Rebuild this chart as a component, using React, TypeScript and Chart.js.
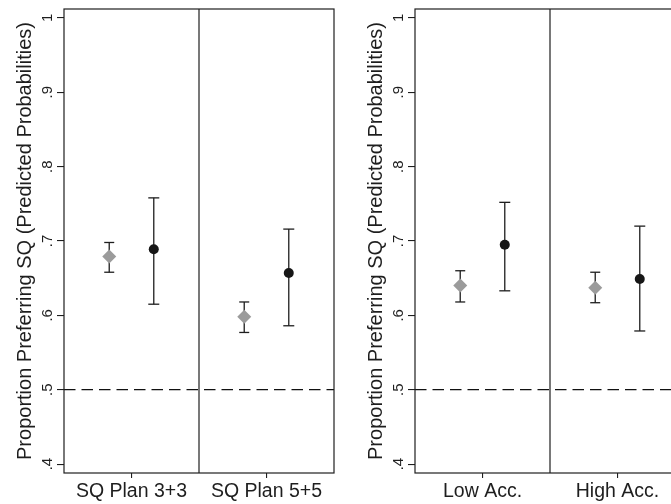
import React, { useEffect, useRef } from 'react';
import Chart from 'chart.js/auto';

// panel 1: status quo plan
const planLabels = ['SQ Plan 3+3', 'SQ Plan 5+5'];
const planDiamond = [0.679, 0.598];
const planDiamondLo = [0.658, 0.577];
const planDiamondHi = [0.698, 0.618];
const planCircle = [0.689, 0.657];
const planCircleLo = [0.615, 0.586];
const planCircleHi = [0.758, 0.716];

// panel 2: accountability
const accLabels = ['Low Acc.', 'High Acc.'];
const accDiamond = [0.64, 0.637];
const accDiamondLo = [0.618, 0.617];
const accDiamondHi = [0.66, 0.658];
const accCircle = [0.695, 0.649];
const accCircleLo = [0.633, 0.579];
const accCircleHi = [0.752, 0.72];

const yTicks = [0.4, 0.5, 0.6, 0.7, 0.8, 0.9, 1];
const yMin = 0.388;
const yMax = 1.012;
const refLine = 0.5;
const dividerAt = 2;
const yTitle = 'Proportion Preferring SQ (Predicted Probabilities)';

const FONT = '"Liberation Sans", Arial, Helvetica, sans-serif';
const INK = '#1e1e1e';
const SHIFT = 0.33;

const framePlugin = {
  id: 'frame',
  afterDraw(chart: any) {
    const { ctx, chartArea } = chart;
    ctx.save();
    ctx.strokeStyle = INK;
    ctx.lineWidth = 1.2;
    ctx.strokeRect(chartArea.left, chartArea.top, chartArea.right - chartArea.left, chartArea.bottom - chartArea.top);
    ctx.restore();
  },
};

interface PanelProps {
  labels: string[];
  diamond: number[];
  diamondLo: number[];
  diamondHi: number[];
  circle: number[];
  circleLo: number[];
  circleHi: number[];
  left: number;
}

const Panel: React.FC<PanelProps> = (p) => {
  const ref = useRef<HTMLCanvasElement>(null);

  useEffect(() => {
    if (!ref.current) return;
    const pos = (i: number) => i * 2 + 1;
    const ci = (lo: number[], hi: number[], off: number) =>
      lo.flatMap((v, i) => [
        { x: pos(i) + off, y: v },
        { x: pos(i) + off, y: hi[i] },
        { x: pos(i) + off, y: null },
      ]);

    const chart = new Chart(ref.current, {
      type: 'scatter',
      data: {
        datasets: [
          {
            data: p.diamond.map((v, i) => ({ x: pos(i) - SHIFT, y: v })),
            pointStyle: 'rectRot',
            pointRadius: 7,
            backgroundColor: '#9b9b9b',
            borderColor: '#9b9b9b',
            borderWidth: 0,
          },
          {
            data: p.circle.map((v, i) => ({ x: pos(i) + SHIFT, y: v })),
            pointStyle: 'circle',
            pointRadius: 5,
            backgroundColor: '#161616',
            borderColor: '#161616',
            borderWidth: 0,
          },
          {
            data: ci(p.diamondLo, p.diamondHi, -SHIFT) as any,
            showLine: true,
            spanGaps: false,
            borderColor: INK,
            borderWidth: 1.3,
            pointStyle: 'line',
            pointRadius: 5,
            pointBorderColor: INK,
            pointBorderWidth: 1.3,
          },
          {
            data: ci(p.circleLo, p.circleHi, SHIFT) as any,
            showLine: true,
            spanGaps: false,
            borderColor: INK,
            borderWidth: 1.3,
            pointStyle: 'line',
            pointRadius: 5.5,
            pointBorderColor: INK,
            pointBorderWidth: 1.3,
          },
          {
            data: [{ x: 0, y: refLine }, { x: 4, y: refLine }],
            showLine: true,
            borderColor: '#111',
            borderWidth: 1.3,
            borderDash: [11.5, 6],
            pointRadius: 0,
          },
          {
            data: [{ x: dividerAt, y: yMin }, { x: dividerAt, y: yMax }],
            showLine: true,
            borderColor: INK,
            borderWidth: 1.2,
            pointRadius: 0,
          },
        ],
      },
      options: {
        animation: false,
        responsive: false,
        layout: { padding: { top: 9, right: 17, left: 0, bottom: 0 } },
        plugins: { legend: { display: false }, tooltip: { enabled: false } },
        events: [],
        scales: {
          x: {
            type: 'linear',
            min: 0,
            max: 4,
            border: { display: false },
            grid: { drawOnChartArea: false, drawTicks: true, tickLength: 5, tickColor: INK, lineWidth: 1.1 },
            afterBuildTicks: (s: any) => {
              s.ticks = p.labels.map((_, i) => ({ value: pos(i) }));
            },
            afterFit: (s: any) => {
              s.height = 31;
            },
            ticks: {
              autoSkip: false,
              maxRotation: 0,
              padding: 2,
              color: INK,
              font: { family: FONT, size: 19.5 },
              callback: (v: any) => p.labels[(Number(v) - 1) / 2] ?? '',
            },
          },
          y: {
            type: 'linear',
            min: yMin,
            max: yMax,
            border: { display: false },
            grid: { drawOnChartArea: false, drawTicks: true, tickLength: 7, tickColor: INK, lineWidth: 1.1 },
            afterBuildTicks: (s: any) => {
              s.ticks = yTicks.map((v) => ({ value: v }));
            },
            afterFit: (s: any) => {
              s.width = 64;
              s.paddingTop = 0;
              s.paddingBottom = 0;
            },
            ticks: {
              minRotation: 90,
              maxRotation: 90,
              crossAlign: 'center',
              padding: 3,
              color: INK,
              font: { family: FONT, size: 15 },
              callback: (v: any) => (Number(v) === 1 ? '1' : Number(v).toFixed(1).replace(/^0/, '')),
            },
            title: {
              display: true,
              text: yTitle,
              color: INK,
              padding: { top: 13.5, bottom: 0 },
              font: { family: FONT, size: 20 },
            },
          },
        },
      },
      plugins: [framePlugin],
    });

    return () => {
      chart.destroy();
    };
  }, [p]);

  return (
    <canvas
      ref={ref}
      width={351}
      height={504}
      style={{ position: 'absolute', left: p.left, top: 0, width: 351, height: 504 }}
    />
  );
};

export default function App() {
  return (
    <div
      style={{
        position: 'absolute',
        left: 0,
        top: 0,
        width: 671,
        height: 504,
        overflow: 'hidden',
        background: '#fff',
      }}
    >
      <Panel
        labels={planLabels}
        diamond={planDiamond}
        diamondLo={planDiamondLo}
        diamondHi={planDiamondHi}
        circle={planCircle}
        circleLo={planCircleLo}
        circleHi={planCircleHi}
        left={0}
      />
      <Panel
        labels={accLabels}
        diamond={accDiamond}
        diamondLo={accDiamondLo}
        diamondHi={accDiamondHi}
        circle={accCircle}
        circleLo={accCircleLo}
        circleHi={accCircleHi}
        left={351}
      />
    </div>
  );
}
